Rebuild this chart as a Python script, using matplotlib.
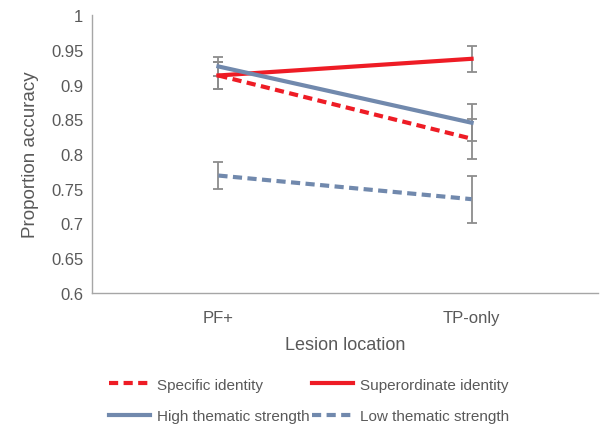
import matplotlib.pyplot as plt
import numpy as np

plt.rcParams['font.family'] = ['Liberation Sans', 'DejaVu Sans']

locations = ['PF+', 'TP-only']
specific = [0.913, 0.822]
specific_err = [0.020, 0.029]
superordinate = [0.913, 0.937]
superordinate_err = [0.020, 0.019]
high_thematic = [0.926, 0.845]
high_thematic_err = [0.014, 0.027]
low_thematic = [0.769, 0.735]
low_thematic_err = [0.020, 0.034]

red = '#ee1c25'
blue = '#7189ad'
grey_txt = '#595959'
err_col = '#8c8c8c'

fig = plt.figure(figsize=(6, 4.27), dpi=100)
ax = fig.add_axes([0.153, 0.3115, 0.844, 0.651])

x = np.arange(len(locations))
series = [
    (specific, specific_err, red, (0, (2.2, 1.3)), 'Specific identity'),
    (superordinate, superordinate_err, red, '-', 'Superordinate identity'),
    (high_thematic, high_thematic_err, blue, '-', 'High thematic strength'),
    (low_thematic, low_thematic_err, blue, (0, (2.2, 1.3)), 'Low thematic strength'),
]
for vals, errs, col, ls, lab in series:
    ax.errorbar(x, vals, yerr=errs, fmt='none', ecolor=err_col, elinewidth=1.3,
                capsize=3.5, capthick=1.3, zorder=2)
handles = []
for vals, errs, col, ls, lab in series:
    h, = ax.plot(x, vals, color=col, linestyle=ls, linewidth=3, label=lab, zorder=3)
    handles.append(h)

ax.set_xlim(-0.5, 1.5)
ax.set_ylim(0.6, 1.0)
ax.set_yticks(np.arange(0.6, 1.001, 0.05))
ax.set_yticklabels(['0.6', '0.65', '0.7', '0.75', '0.8', '0.85', '0.9', '0.95', '1'])
ax.set_xticks(x)
ax.set_xticklabels(locations)
ax.tick_params(axis='both', length=0, colors=grey_txt, labelsize=12, pad=6)
ax.tick_params(axis='x', pad=12)
for s in ['top', 'right']:
    ax.spines[s].set_visible(False)
for s in ['left', 'bottom']:
    ax.spines[s].set_color('#a6a6a6')
    ax.spines[s].set_linewidth(1)

ax.set_xlabel('Lesion location', color=grey_txt, fontsize=13, labelpad=8)
ax.set_ylabel('Proportion accuracy', color=grey_txt, fontsize=13.5, labelpad=9)

# row-wise order like the original legend
order = [0, 2, 1, 3]
leg = fig.legend([handles[i] for i in order], [series[i][4] for i in order],
                 loc='lower left', bbox_to_anchor=(0.158, -0.026), ncol=2, frameon=False,
                 fontsize=11, handlelength=2.7, handletextpad=0.5, columnspacing=0.1,
                 labelspacing=1.15)
for t in leg.get_texts():
    t.set_color(grey_txt)

fig.savefig('out.png', dpi=100)
